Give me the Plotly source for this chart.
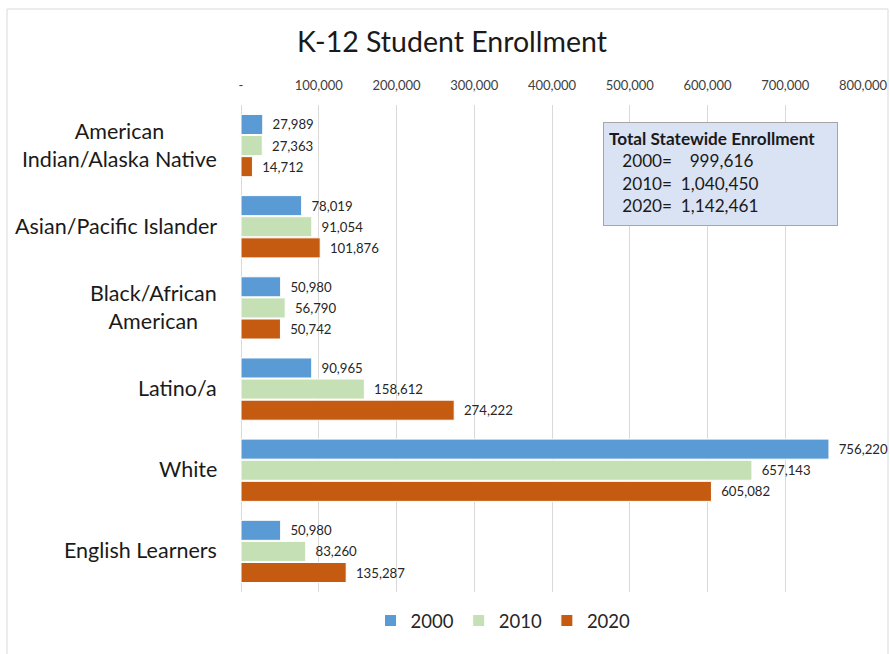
import plotly.graph_objects as go

categories = ["American<br>Indian/Alaska Native", "Asian/Pacific Islander",
              "Black/African<br>American", "Latino/a", "White", "English Learners"]
years = ["2000", "2010", "2020"]
values_2000 = [27989, 78019, 50980, 90965, 756220, 50980]
values_2010 = [27363, 91054, 56790, 158612, 657143, 83260]
values_2020 = [14712, 101876, 50742, 274222, 605082, 135287]
totals = [999616, 1040450, 1142461]
tick_vals = [0, 100000, 200000, 300000, 400000, 500000, 600000, 700000, 800000]
tick_text = ["-", "100,000", "200,000", "300,000", "400,000", "500,000",
             "600,000", "700,000", "800,000"]

colors = ["#5B9BD5", "#C5E0B4", "#C55A11"]
series = [values_2000, values_2010, values_2020]
FONT = "Lato"
nb = "\u00a0"

fig = go.Figure()
for yr, vals, col in zip(years, series, colors):
    fig.add_trace(go.Bar(
        y=categories, x=vals, orientation="h", name=yr,
        marker=dict(color=col, line=dict(color="white", width=1)),
        text=[f"{nb*2}{v:,}" for v in vals], textposition="outside",
        textfont=dict(family=FONT, size=13.2, color="#262626"),
        cliponaxis=False,
    ))

W, H = 890, 654
L, R, T, B = 241, 27, 105, 62
pw = W - L - R
ph = H - T - B

annotations = []
for c in categories:
    annotations.append(dict(
        x=0, xref="paper", y=c, yref="y", xanchor="right", xshift=-22, yshift=1,
        text=c, showarrow=False, align="center",
        font=dict(family=FONT, size=21.5, color="#1a1a1a"),
    ))

box_text = (
    "<b>Total Statewide Enrollment</b><br>"
    + f"{nb*3}{years[0]}={nb*4}{totals[0]:,}<br>"
    + f"{nb*3}{years[1]}={nb*2}{totals[1]:,}<br>"
    + f"{nb*3}{years[2]}={nb*2}{totals[2]:,}"
)
annotations.append(dict(
    x=(603 - L) / pw, y=(H - B - 122) / ph, xref="paper", yref="paper",
    xanchor="left", yanchor="top", text=box_text, showarrow=False,
    align="left", valign="top", width=223, height=92, borderpad=5,
    bgcolor="#DAE3F3", bordercolor="#A6A6A6", borderwidth=1,
    font=dict(family=FONT, size=17.2, color="#1a1a1a"),
))

shapes = [dict(
    type="rect", xref="paper", yref="paper",
    x0=(7 - L) / pw, x1=(888 - L) / pw,
    y0=(H - B - 660) / ph, y1=(H - B - 9) / ph,
    line=dict(color="#D9D9D9", width=1), fillcolor="rgba(0,0,0,0)", layer="below",
)]

fig.update_layout(
    width=W, height=H,
    margin=dict(l=L, r=R, t=T, b=B, autoexpand=False),
    paper_bgcolor="white", plot_bgcolor="white",
    barmode="group", bargap=0.22, bargroupgap=0.05,
    title=dict(text="K-12 Student Enrollment", x=452 / W, xanchor="center",
               y=1 - 42 / H, yanchor="middle",
               font=dict(family=FONT, size=28.5, color="#1a1a1a")),
    xaxis=dict(side="top", range=[0, 800000], tickvals=tick_vals, ticktext=tick_text,
               showgrid=True, gridcolor="#D9D9D9", gridwidth=1,
               zeroline=True, zerolinecolor="#D9D9D9", zerolinewidth=1,
               ticks="outside", ticklen=9, tickcolor="rgba(0,0,0,0)",
               tickfont=dict(family=FONT, size=13, color="#404040"),
               showline=False, fixedrange=True, automargin=False),
    yaxis=dict(autorange="reversed", showticklabels=False, showgrid=False,
               zeroline=False, showline=False, fixedrange=True, automargin=False),
    legend=dict(orientation="h", x=503 / W, xanchor="center", xref="container",
                y=1 - 621 / H, yref="container", yanchor="middle",
                font=dict(family=FONT, size=18.5, color="#262626"),
                itemwidth=30, traceorder="normal"),
    annotations=annotations,
    shapes=shapes,
    showlegend=True,
)

fig.write_html("out.html", config={"displayModeBar": False},
               post_script="document.body.style.margin='0';document.body.style.overflow='hidden';")
